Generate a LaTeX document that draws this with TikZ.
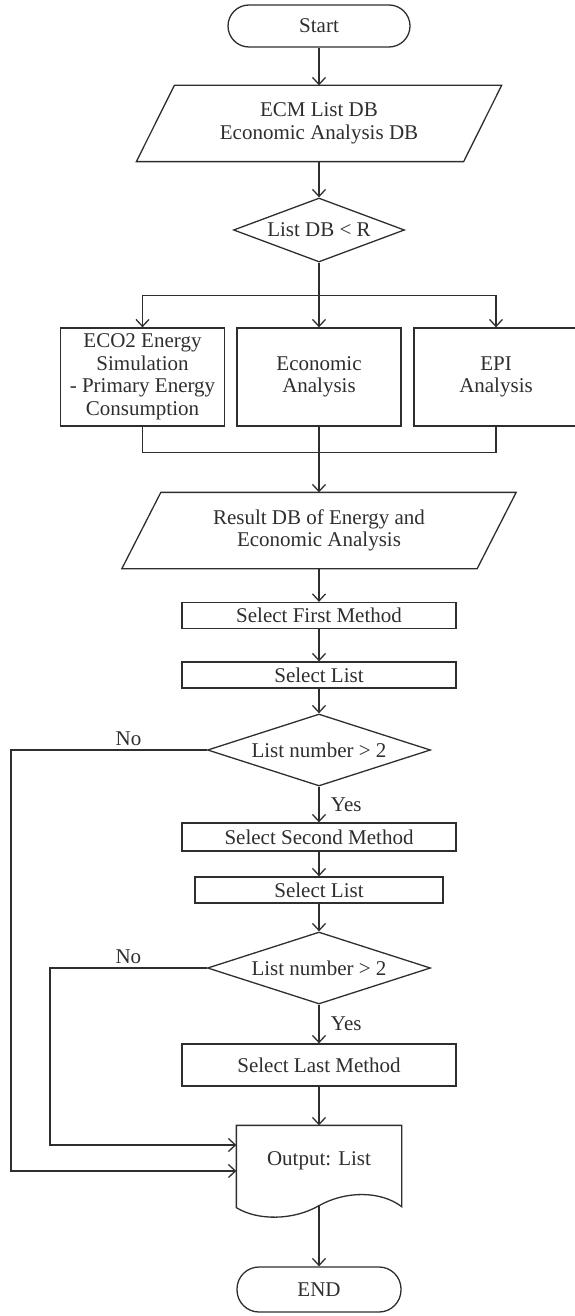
\documentclass[tikz,border=0pt]{standalone}
\usepackage{fontspec}
\setmainfont{Liberation Serif}
\usetikzlibrary{arrows.meta,shapes.geometric,calc}
\definecolor{ink}{HTML}{2E2E2E}

\begin{document}
\begin{tikzpicture}[x=1pt,y=-1pt,color=ink,line width=1.3pt,
    every node/.style={font=\fontsize{21}{22.5}\selectfont,align=center},
    arr/.style={-{Straight Barb[length=7pt,width=13pt]}},
    term/.style={draw,rectangle,minimum width=164pt,minimum height=45pt,rounded corners=22pt},
    io/.style={rectangle,minimum height=75pt,inner sep=2pt},
    proc/.style={draw,rectangle,minimum width=274pt,minimum height=26pt,inner sep=1pt},
    task/.style={draw,rectangle,minimum width=164pt,minimum height=98pt,inner sep=2pt},
    dec/.style={draw,diamond,aspect=3.1,minimum width=223pt,minimum height=72pt,inner sep=0pt}]
  \useasboundingbox (0,0) rectangle (574,1316);
  \node[term,minimum width=182pt,minimum height=42pt,rounded corners=21pt] (start) at (319,26) {Start};
  \node[io,minimum width=326pt] (ecm) at (319,123.5) {ECM List DB\\Economic Analysis DB};
  \node[dec,minimum width=171pt,minimum height=64pt,aspect=2.67] (d1) at (319,230) {List DB < R};
  \node[task] (eco) at (142.5,377) {ECO2 Energy\\Simulation\\- Primary Energy\\Consumption};
  \node[task] (econ) at (319,377) {Economic\\Analysis};
  \node[task] (epi) at (496,377) {EPI\\Analysis};
  \node[io,minimum width=354pt] (res) at (319,530.5) {Result DB of Energy and\\Economic Analysis};
  \node[proc] (m1) at (319,615.5) {Select First Method};
  \node[proc] (l1) at (319,675) {Select List};
  \node[dec] (d2) at (319,750) {List number > 2};
  \node[proc,minimum height=28pt] (m2) at (319,837) {Select Second Method};
  \node[proc,minimum width=248pt] (l2) at (319,890) {Select List};
  \node[dec] (d3) at (319,968) {List number > 2};
  \node[proc,minimum height=42pt] (m3) at (319,1065) {Select Last Method};
  \node[minimum width=164pt,minimum height=70pt,inner sep=0pt] (out) at (319,1161) {Output: List};
  \node[term] (stop) at (319,1289.5) {END};
  % slanted data boxes
  \draw ($(ecm.north west)+(19,0)$) -- ($(ecm.north east)+(19,0)$) -- ($(ecm.south east)+(-19,0)$) -- ($(ecm.south west)+(-19,0)$) -- cycle;
  \draw ($(res.north west)+(19.5,0)$) -- ($(res.north east)+(19.5,0)$) -- ($(res.south east)+(-19.5,0)$) -- ($(res.south west)+(-19.5,0)$) -- cycle;
  % document shape
  \draw (out.north west) -- (out.north east) -- ($(out.south east)+(0,10)$)
    .. controls ($(out.south east)+(-21,-6)$) and ($(out.south east)+(-56,-6)$) .. ($(out.south)+(0,9)$)
    .. controls ($(out.south)+(-26,24)$) and ($(out.south west)+(21,24)$) .. ($(out.south west)+(0,11)$) -- cycle;
  \draw[arr] (start.south) -- (ecm.north);
  \draw[arr] (ecm.south) -- (d1.north);
  \draw[arr] (d1.south) -- (econ.north);
  \draw[arr] (d1.south) -- ++(0,33) -| (eco.north);
  \draw[arr] (d1.south) -- ++(0,33) -| (epi.north);
  \draw (eco.south) -- ++(0,26) -| (epi.south);
  \draw[arr] (econ.south) -- (res.north);
  \draw[arr] (res.south) -- (m1.north);
  \draw[arr] (m1.south) -- (l1.north);
  \draw[arr] (l1.south) -- (d2.north);
  \draw[arr] (d2.south) -- (m2.north) node[midway,anchor=west,xshift=8pt] (yes1) {Yes};
  \draw[arr] (m2.south) -- (l2.north);
  \draw[arr] (l2.south) -- (d3.north);
  \draw[arr] (d3.south) -- (m3.north) node[midway,anchor=west,xshift=8pt] (yes2) {Yes};
  \draw[arr] (m3.south) -- (out.north);
  \draw[arr] (d2.west) -- ++(-196,0) node[pos=0.4,above] (no1) {No} |- ($(out.west)+(0,10)$);
  \draw[arr] (d3.west) -- ++(-157,0) node[pos=0.5,above] (no2) {No} |- ($(out.west)+(0,-16)$);
  \draw[arr] ($(out.south)+(0,9)$) -- (stop.north);
\end{tikzpicture}
\end{document}
